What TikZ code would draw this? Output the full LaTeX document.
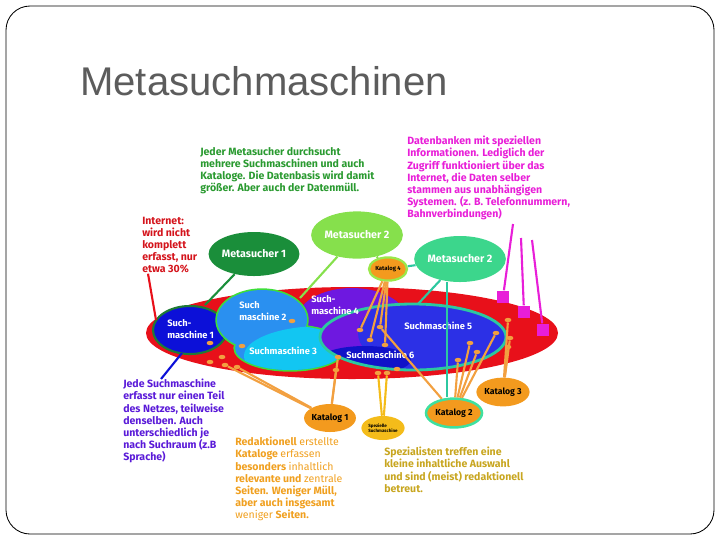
\documentclass[tikz,border=0pt]{standalone}
\usepackage{fontspec}
\setsansfont{Liberation Sans}
\newfontfamily\geofont{Fira Sans}
\usepackage{tikz}
\usetikzlibrary{shapes.geometric}
\definecolor{slideGray}{HTML}{5C5C5C}
\definecolor{netRed}{HTML}{E8101A}
\definecolor{netRedText}{HTML}{D4141C}
\definecolor{smOneBlue}{HTML}{0C10D8}
\definecolor{smOneRim}{HTML}{1E7A36}
\definecolor{smTwoBlue}{HTML}{2A90F0}
\definecolor{smThreeCyan}{HTML}{12C6F2}
\definecolor{smTwoRim}{HTML}{3EDE3A}
\definecolor{smFourViolet}{HTML}{6E18E0}
\definecolor{smFiveBlue}{HTML}{2C30E6}
\definecolor{smSixBlue}{HTML}{1012C8}
\definecolor{smFiveRim}{HTML}{2CC8A0}
\definecolor{metaDark}{HTML}{1A8E3A}
\definecolor{metaLime}{HTML}{86E04C}
\definecolor{metaAqua}{HTML}{3CD68C}
\definecolor{katOrange}{HTML}{F39A1E}
\definecolor{katLimeRim}{HTML}{9AE84A}
\definecolor{katAquaRim}{HTML}{3EE0A0}
\definecolor{spezYellow}{HTML}{F4BC1A}
\definecolor{dbMagenta}{HTML}{E81ED8}
\definecolor{noteGreen}{HTML}{2A9A30}
\definecolor{notePurple}{HTML}{5A1AD8}
\definecolor{noteOrange}{HTML}{F0A020}
\definecolor{noteOlive}{HTML}{C8A620}
\definecolor{dotOrange}{HTML}{F2A040}
\tikzset{
  % px-like grid: 720 x 540, y runs downwards
  note/.style={
    anchor=north west,
    align=left,
    inner sep=0pt,
    text=#1,
    font=\geofont\bfseries\fontsize{7.5}{8.6}\selectfont
  },
  meta/.style={
    ellipse,
    fill=#1,
    inner sep=0pt,
    text=white,
    font=\geofont\bfseries\fontsize{7.6}{9}\selectfont
  },
  katalog/.style={
    ellipse,
    fill=katOrange,
    inner sep=0pt,
    text=black,
    font=\geofont\bfseries\fontsize{6.2}{7}\selectfont
  },
  smlabel/.style={
    anchor=west,
    align=left,
    inner sep=0pt,
    text=white,
    font=\geofont\bfseries\fontsize{6.6}{8.2}\selectfont
  },
  dot/.style={
    ellipse,
    fill=dotOrange,
    minimum width=1.7mm,
    minimum height=1.1mm,
    inner sep=0pt
  },
  dbbox/.style={
    rectangle,
    fill=dbMagenta,
    minimum size=3.2mm,
    inner sep=0pt
  },
  feed/.style={
    line width=1.5pt,
    draw=#1
  },
  feed/.default=dotOrange
}
\begin{document}
\begin{tikzpicture}[x=0.025cm,y=-0.025cm]
\useasboundingbox (0,0) rectangle (720,540);

% slide frame and title
\draw[line width=0.6pt, rounded corners=0.6cm] (6,6) rectangle (714,534);
\node[anchor=base west, inner sep=0pt, text=slideGray,
      font=\sffamily\fontsize{28.5}{30}\selectfont] (title) at (80,95) {Metasuchmaschinen};

% the net
\fill[netRed] (352,333) ellipse [x radius=206, y radius=46];

% Suchmaschine 1
\filldraw[fill=smOneBlue, draw=smOneRim, line width=1.5pt] (190,330) ellipse [x radius=37, y radius=24];

% Suchmaschine 4
\fill[smFourViolet] (352,320) ellipse [x radius=55, y radius=32];

% Suchmaschine 2 / 3
\draw[smTwoRim, line width=2.4pt] (262,320) ellipse [x radius=45, y radius=30]
                                  (290,348) ellipse [x radius=55, y radius=22];
\fill[smTwoBlue] (262,320) ellipse [x radius=45, y radius=30]
                 (290,348) ellipse [x radius=55, y radius=22];
\begin{scope}
  \clip (262,320) ellipse [x radius=45, y radius=30]
        (290,348) ellipse [x radius=55, y radius=22];
  \fill[smThreeCyan] (322,356) ellipse [x radius=78, y radius=30];
\end{scope}

% Suchmaschine 5 / 6
\begin{scope}
  \clip (413,337) ellipse [x radius=93, y radius=33];
  \fill[smFourViolet] (320,300) rectangle (510,375);
  \fill[smFiveBlue] (455,333) ellipse [x radius=97, y radius=45];
  \fill[smSixBlue] (365,360) ellipse [x radius=46, y radius=14];
\end{scope}
\draw[smFiveRim, line width=2pt] (413,337) ellipse [x radius=93, y radius=33];

% labels inside the net
\node[smlabel] (sm1) at (167,329) {Such-\\maschine 1};
\node[smlabel] (sm2) at (239,311) {Such\\maschine 2};
\node[smlabel] (sm3) at (249,351) {Suchmaschine 3};
\node[smlabel] (sm4) at (311,305) {Such-\\maschine 4};
\node[smlabel] (sm5) at (404,326) {Suchmaschine 5};
\node[smlabel] (sm6) at (346,355) {Suchmaschine 6};

% orange dots (pages caught by the catalogues)
\foreach \n/\p in {r1/{(210,362)}, r2/{(222,357)}, s1d/{(210,343)}, s2d/{(242,346)},
                   s2e/{(292,321)}, r3/{(397,369)},
                   k1a/{(225,365)}, k1b/{(237,367)}, k1c/{(338,357)}, k1d/{(336,370)},
                   sp1/{(378,373)}, sp2/{(387,373)},
                   k4a/{(360,330)}, k4b/{(370,340)}, k4c/{(380,327)}, k4d/{(385,345)},
                   k2a/{(458,360)}, k2b/{(470,343)}, k2c/{(477,352)}, k2d/{(496,333)},
                   k3a/{(508,320)}, k3b/{(510,338)}, k3c/{(508,347)}}
  \node[dot] (\n) at \p {};

% Metasucher
\node[meta=metaDark, minimum width=2.15cm, minimum height=1.1cm] (meta1) at (254,254) {Metasucher 1};
\node[meta=metaLime, minimum width=2.2cm, minimum height=1.18cm] (meta2l) at (357,235) {Metasucher 2};
\node[meta=metaAqua, minimum width=2.15cm, minimum height=1.15cm] (meta2r) at (460,259) {Metasucher 2};

% Kataloge
\node[katalog, draw=katLimeRim, line width=1.6pt, minimum width=0.95cm, minimum height=0.58cm,
      font=\geofont\bfseries\fontsize{4.2}{5}\selectfont] (kat4) at (388,269) {Katalog 4};
\node[katalog, minimum width=1.25cm, minimum height=0.7cm] (kat1) at (330,418) {Katalog 1};
\node[katalog, fill=spezYellow, minimum width=1.08cm, minimum height=0.6cm, align=left,
      font=\geofont\bfseries\fontsize{3.2}{3.6}\selectfont] (spez) at (383,428) {Spezielle\\Suchmaschine};
\node[katalog, draw=katAquaRim, line width=1.8pt, minimum width=1.4cm, minimum height=0.72cm] (kat2) at (454,413) {Katalog 2};
\node[katalog, minimum width=1.33cm, minimum height=0.72cm] (kat3) at (503,392) {Katalog 3};

% Datenbanken
\node[dbbox] (db1) at (503,297) {};
\node[dbbox] (db2) at (524,312) {};
\node[dbbox] (db3) at (543,330) {};
\coordinate (m1) at (513,224);
\coordinate (m2) at (521,238);
\coordinate (m3) at (532,240);

% fixed points on the rims
\coordinate (s1top) at (205,305);
\coordinate (s1bot) at (182,353);
\coordinate (s2top) at (300,298);
\coordinate (s5top) at (418,304);
\coordinate (redtip) at (156,320);

% text blocks
\node[note=noteGreen] (metanote) at (200,147)
{Jeder Metasucher durchsucht\\mehrere Suchmaschinen und auch\\Kataloge. Die Datenbasis wird damit\\größer. Aber auch der Datenmüll.};
\node[note=dbMagenta] (dbnote) at (407,136)
{Datenbanken mit speziellen\\Informationen. Lediglich der\\Zugriff funktioniert über das\\Internet, die Daten selber\\stammen aus unabhängigen\\Systemen. (z. B. Telefonnummern,\\Bahnverbindungen)};
\node[note=netRedText] (netnote) at (142,217)
{Internet:\\wird nicht\\komplett\\erfasst, nur\\etwa 30\%};
\node[note=notePurple] (smnote) at (123,379)
{Jede Suchmaschine\\erfasst nur einen Teil\\des Netzes, teilweise\\denselben. Auch\\unterschiedlich je\\nach Suchraum (z.B\\Sprache)};
\node[note=noteOrange] (katnote) at (235,437)
{Redaktionell \mdseries erstellte\\\bfseries Kataloge \mdseries erfassen\\\bfseries besonders \mdseries inhaltlich\\relevante \bfseries und \mdseries zentrale\\\bfseries Seiten. Weniger Müll,\\aber auch insgesamt\\\mdseries weniger \bfseries Seiten.};
\node[note=noteOlive] (speznote) at (384,447)
{Spezialisten treffen eine\\kleine inhaltliche Auswahl\\und sind (meist) redaktionell\\betreut.};

% connectors
\draw[feed=netRed] ([xshift=0.15cm]netnote.south west) -- (redtip);
\draw[feed=smOneBlue] (s1bot) -- ([xshift=0.95cm]smnote.north west);
\draw[feed=metaDark] (meta1) -- (s1top);
\draw[feed=metaLime] (meta2l) -- (s2top);
\draw[feed=metaLime] (meta2l) -- (kat4);
\draw[feed=smFiveRim] (meta2r) -- (kat4);
\draw[feed=smFiveRim] (meta2r) -- (s5top);
\draw[feed=smFiveRim] ([xshift=-0.18cm]kat2.north |- meta2r.south) -- ([xshift=-0.18cm]kat2.north);

\foreach \d in {k4a,k4b,k4c,k4d}
  \draw[feed] (kat4) -- (\d);
\draw[feed] (k4c) -- (kat2);
\foreach \d in {k1a,k1b,k1c,k1d}
  \draw[feed] (kat1) -- (\d);
\foreach \d in {sp1,sp2}
  \draw[feed=spezYellow] (spez) -- (\d);
\foreach \d in {k2a,k2b,k2c,k2d}
  \draw[feed] (kat2) -- (\d);
\foreach \d in {k3a,k3b,k3c}
  \draw[feed] (kat3) -- (\d);

\draw[feed=dbMagenta] (m1) -- (db1);
\draw[feed=dbMagenta] (m2) -- (db2);
\draw[feed=dbMagenta] (m3) -- (db3);

\end{tikzpicture}
\end{document}
